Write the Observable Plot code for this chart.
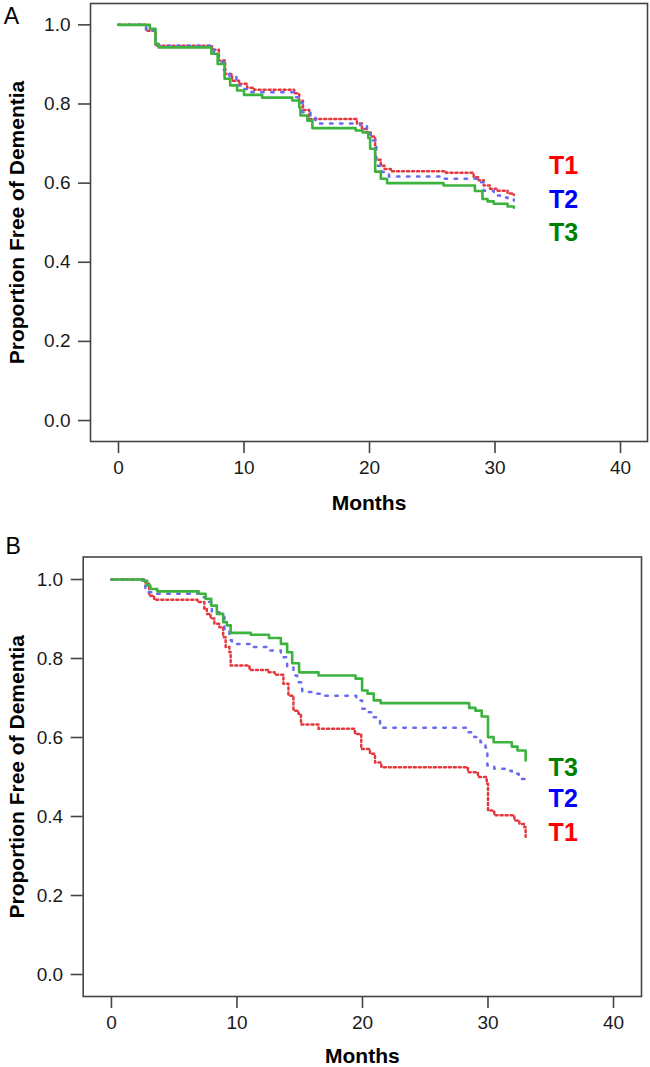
<!DOCTYPE html>
<html><head><meta charset="utf-8">
<script src="https://cdn.jsdelivr.net/npm/d3@7"></script>
<script src="https://cdn.jsdelivr.net/npm/@observablehq/plot@0.6"></script>
<style>
html,body{margin:0;padding:0;background:#fff;}
#chart{width:650px;height:1067px;position:relative;overflow:hidden;background:#fff;}
#chart svg{display:block;}
</style></head><body><div id="chart"></div>
<script>
// ---- Data ----
const seriesNames = ["T1", "T2", "T3"];
const xTicks = [0, 10, 20, 30, 40];
const yTicks = [0, 0.2, 0.4, 0.6, 0.8, 1.0];
const xTitle = "Months";
const yTitle = "Proportion Free of Dementia";
const panelLetters = ["A", "B"];

// Panel A
const aT1Months = [0, 2.2, 2.95, 7.45, 8.0, 8.5, 9.05, 9.6, 10.25, 10.8, 14.0, 14.4, 14.7, 15.2, 19.0, 19.4, 19.75, 20.1, 20.45, 20.9, 21.2, 21.7, 26.1, 28.3, 28.7, 29.1, 29.6, 30.1, 31.0, 31.5];
const aT1Surv   = [1.0, 0.985, 0.947, 0.937, 0.910, 0.876, 0.859, 0.851, 0.841, 0.836, 0.827, 0.808, 0.785, 0.762, 0.751, 0.737, 0.729, 0.718, 0.659, 0.644, 0.636, 0.630, 0.626, 0.615, 0.607, 0.594, 0.586, 0.581, 0.574, 0.570];
const aT2Months = [0, 2.2, 2.95, 7.6, 8.0, 8.4, 8.85, 9.4, 9.8, 10.6, 14.0, 14.4, 14.65, 15.3, 15.7, 19.25, 19.8, 20.1, 20.55, 21.0, 21.55, 26.0, 28.6, 29.1, 29.9, 30.4, 31.0, 31.5];
const aT2Surv   = [1.0, 0.985, 0.947, 0.930, 0.907, 0.885, 0.868, 0.847, 0.838, 0.830, 0.817, 0.804, 0.779, 0.767, 0.751, 0.746, 0.725, 0.708, 0.644, 0.628, 0.617, 0.611, 0.602, 0.581, 0.569, 0.564, 0.560, 0.556];
const aT3Months = [0, 2.5, 2.95, 3.2, 7.4, 7.9, 8.45, 8.9, 9.45, 10.0, 11.45, 13.85, 14.4, 14.5, 15.05, 15.45, 18.9, 19.45, 19.9, 20.05, 20.45, 20.9, 21.4, 25.9, 28.4, 29.0, 29.4, 29.9, 31.0, 31.5];
const aT3Surv   = [1.0, 0.99, 0.952, 0.943, 0.927, 0.901, 0.864, 0.847, 0.834, 0.823, 0.816, 0.809, 0.792, 0.771, 0.758, 0.739, 0.733, 0.728, 0.714, 0.687, 0.629, 0.611, 0.600, 0.594, 0.580, 0.560, 0.554, 0.548, 0.541, 0.538];

// Panel B
const bT1Months = [0, 2.7, 3.0, 3.4, 6.85, 7.4, 7.6, 7.9, 8.2, 8.6, 8.9, 9.1, 9.4, 9.5, 11.0, 12.5, 13.0, 13.7, 14.1, 14.5, 14.9, 15.1, 16.5, 19.4, 19.9, 20.6, 21.0, 21.5, 28.4, 29.2, 29.9, 30.0, 30.5, 32.1, 32.5, 32.9, 33.0];
const bT1Surv   = [1.0, 0.989, 0.959, 0.949, 0.943, 0.926, 0.913, 0.901, 0.888, 0.879, 0.854, 0.829, 0.816, 0.782, 0.771, 0.765, 0.759, 0.736, 0.706, 0.668, 0.660, 0.633, 0.622, 0.609, 0.571, 0.559, 0.537, 0.525, 0.512, 0.500, 0.483, 0.415, 0.403, 0.390, 0.381, 0.373, 0.349];
const bT2Months = [0, 2.7, 3.3, 7.2, 7.5, 8.0, 8.6, 9.0, 9.4, 9.6, 11.3, 12.5, 13.5, 14.0, 14.5, 14.8, 15.2, 16.1, 16.7, 19.5, 19.97, 20.5, 20.9, 21.4, 28.35, 28.9, 29.4, 29.8, 29.95, 30.5, 31.5, 31.9, 32.45, 33.0];
const bT2Surv   = [1.0, 0.968, 0.964, 0.955, 0.943, 0.917, 0.905, 0.875, 0.846, 0.837, 0.829, 0.820, 0.803, 0.778, 0.757, 0.740, 0.715, 0.711, 0.706, 0.694, 0.673, 0.664, 0.651, 0.625, 0.613, 0.601, 0.588, 0.575, 0.529, 0.521, 0.516, 0.508, 0.495, 0.481];
const bT3Months = [0, 2.45, 2.85, 3.1, 3.65, 6.95, 7.5, 7.95, 8.4, 8.9, 9.2, 9.5, 11.1, 12.55, 13.5, 14.0, 14.4, 14.95, 16.5, 19.45, 19.97, 20.4, 20.9, 21.45, 28.5, 29.0, 29.5, 30.0, 30.45, 31.9, 32.35, 33.0];
const bT3Surv   = [1.0, 0.997, 0.985, 0.976, 0.970, 0.964, 0.951, 0.934, 0.913, 0.892, 0.884, 0.865, 0.860, 0.852, 0.837, 0.816, 0.788, 0.765, 0.757, 0.749, 0.719, 0.711, 0.694, 0.687, 0.675, 0.668, 0.653, 0.601, 0.588, 0.577, 0.567, 0.542];

// ---- Styles ----
const FONT = "'Liberation Sans', Arial, Helvetica, sans-serif";
const lineStyles = {
  T1: {stroke: "#e5373c", strokeWidth: 2.5, strokeDasharray: "2,3"},
  T2: {stroke: "#6a6af0", strokeWidth: 2.5, strokeDasharray: "2.5,7.5"},
  T3: {stroke: "#3cb33f", strokeWidth: 2.6, strokeDasharray: null}
};
const textColors = {T1: "#ff0000", T2: "#0000ff", T3: "#008000"};

function rows(months, surv) {
  return months.map((m, i) => ({month: m, surv: surv[i]}));
}

function panel(cfg) {
  const marks = [
    Plot.axisX({ticks: xTicks, tickSize: 12, tickPadding: 7, fontSize: 19, stroke: "#444", strokeWidth: 1.6, fill: "#1a1a1a", label: null}),
    Plot.axisY({ticks: yTicks, tickFormat: d3.format(".1f"), tickSize: 12, tickPadding: 8, fontSize: 19, stroke: "#444", strokeWidth: 1.6, fill: "#1a1a1a", label: null}),
  ];
  for (const name of seriesNames) {
    const s = cfg.series[name];
    const st = lineStyles[name];
    marks.push(Plot.line(rows(s.months, s.surv), {
      x: "month", y: "surv", curve: "step-after",
      stroke: st.stroke, strokeWidth: st.strokeWidth,
      strokeDasharray: st.strokeDasharray || undefined
    }));
  }
  marks.push(Plot.frame({stroke: "#444", strokeWidth: 1.6}));
  marks.push(Plot.text([xTitle], {frameAnchor: "bottom", textAnchor: "middle", lineAnchor: "middle", dy: cfg.xTitleDy, fontSize: 21, fontWeight: "bold", fill: "#000"}));
  marks.push(Plot.text([yTitle], {frameAnchor: "left", textAnchor: "middle", lineAnchor: "middle", rotate: -90, dx: cfg.yTitleDx, fontSize: 21, fontWeight: "bold", fill: "#000"}));
  cfg.legendOrder.forEach((name, i) => {
    marks.push(Plot.text([name], {frameAnchor: "top-left", textAnchor: "middle", lineAnchor: "middle", dx: cfg.legendDx, dy: cfg.legendDy[i], fontSize: 25, fontWeight: "bold", fill: textColors[name]}));
  });
  marks.push(Plot.text([cfg.letter], {frameAnchor: "top-left", textAnchor: "middle", lineAnchor: "middle", dx: cfg.letterDx, dy: cfg.letterDy, fontSize: 23, fill: "#000"}));

  return Plot.plot({
    width: 650,
    height: cfg.height,
    marginTop: cfg.mt, marginBottom: cfg.mb, marginLeft: cfg.ml, marginRight: cfg.mr,
    x: {domain: cfg.xDomain},
    y: {domain: cfg.yDomain},
    style: {fontFamily: FONT, fontSize: "19px", background: "white", overflow: "visible"},
    marks
  });
}

const chart = document.getElementById("chart");
chart.appendChild(panel({
  letter: panelLetters[0],
  height: 520, mt: 3, mb: 79, ml: 90, mr: 3,
  xDomain: [-2.23, 42.15], yDomain: [-0.053, 1.054],
  series: {
    T1: {months: aT1Months, surv: aT1Surv},
    T2: {months: aT2Months, surv: aT2Surv},
    T3: {months: aT3Months, surv: aT3Surv}
  },
  xTitleDy: 62, yTitleDx: -73,
  legendOrder: ["T1", "T2", "T3"], legendDx: 473, legendDy: [162, 196, 229],
  letterDx: -79, letterDy: 13
}));
chart.appendChild(panel({
  letter: panelLetters[1],
  height: 547, mt: 36.5, mb: 71, ml: 82.7, mr: 9,
  xDomain: [-2.25, 42.23], yDomain: [-0.0557, 1.057],
  series: {
    T1: {months: bT1Months, surv: bT1Surv},
    T2: {months: bT2Months, surv: bT2Surv},
    T3: {months: bT3Months, surv: bT3Surv}
  },
  xTitleDy: 60, yTitleDx: -66,
  legendOrder: ["T3", "T2", "T1"], legendDx: 480, legendDy: [210.5, 241.5, 275.5],
  letterDx: -70, letterDy: -10
}));
</script>
</body></html>
